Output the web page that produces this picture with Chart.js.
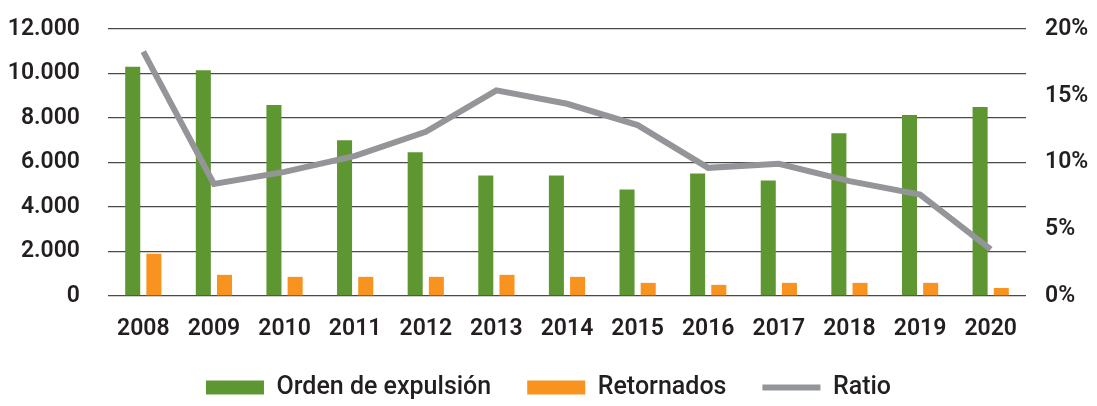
<!DOCTYPE html>
<html lang="es">
<head>
    <meta charset="UTF-8">
    <title>Orden de expulsión y retornados</title>
    <script src="https://cdn.jsdelivr.net/npm/chart.js@4.4.1/dist/chart.umd.min.js"></script>
    <style>
        html, body { margin: 0; padding: 0; background: #fff; }
        #wrap { width: 1097px; height: 406px; }
    </style>
</head>
<body>
<div id="wrap"><canvas id="chart" width="1097" height="406"></canvas></div>
<script>
    // values
    const years = ['2008', '2009', '2010', '2011', '2012', '2013', '2014', '2015', '2016', '2017', '2018', '2019', '2020'];
    const ordenExpulsion = [10300, 10150, 8580, 7000, 6460, 5420, 5420, 4790, 5510, 5190, 7320, 8130, 8490];
    const retornados = [1900, 950, 860, 860, 860, 950, 860, 590, 500, 590, 590, 590, 360];
    const ratio = [18.3, 8.4, 9.3, 10.5, 12.3, 15.4, 14.4, 12.8, 9.6, 9.9, 8.6, 7.6, 3.5];
    const leftTicks = [0, 2000, 4000, 6000, 8000, 10000, 12000];
    const rightTicks = [0, 5, 10, 15, 20];

    const textColor = '#231f20';
    const tickFont = { family: 'Roboto', size: 23, weight: '600' };

    function miles(v) {
        return String(v).replace(/\B(?=(\d{3})+(?!\d))/g, '.');
    }

    // fixed side widths, and no extra top/bottom room for the tick labels
    function fixWidth(w) {
        return axis => {
            axis.width = w;
            axis.paddingTop = 0;
            axis.paddingBottom = 0;
        };
    }

    new Chart(document.getElementById('chart'), {
        type: 'bar',
        data: {
            labels: years,
            datasets: [
                {
                    label: 'Orden de expulsión',
                    data: ordenExpulsion,
                    backgroundColor: '#5e9732',
                    yAxisID: 'y',
                    order: 1,
                    categoryPercentage: 0.6,
                    barPercentage: 0.71
                },
                {
                    label: 'Retornados',
                    data: retornados,
                    backgroundColor: '#f7931e',
                    yAxisID: 'y',
                    order: 1,
                    categoryPercentage: 0.6,
                    barPercentage: 0.71
                },
                {
                    type: 'line',
                    label: 'Ratio',
                    data: ratio,
                    borderColor: '#939598',
                    backgroundColor: '#939598',
                    borderWidth: 6,
                    pointRadius: 0,
                    tension: 0,
                    yAxisID: 'y1',
                    order: 0
                }
            ]
        },
        options: {
            responsive: false,
            animation: false,
            layout: { padding: { top: 29, left: 0, right: 0, bottom: -4 } },
            scales: {
                x: {
                    offset: true,
                    grid: { display: false, drawTicks: false },
                    border: { display: false },
                    ticks: { color: textColor, font: tickFont, padding: 19, maxRotation: 0 },
                    afterFit: axis => { axis.height = 43; }
                },
                y: {
                    position: 'left',
                    min: 0,
                    max: 12000,
                    afterBuildTicks: axis => { axis.ticks = leftTicks.map(v => ({ value: v })); },
                    grid: { color: '#4a4a4a', lineWidth: 1.3, drawTicks: false },
                    border: { display: false },
                    ticks: { color: textColor, font: tickFont, padding: 28, callback: v => miles(v) },
                    afterFit: fixWidth(108)
                },
                y1: {
                    position: 'right',
                    min: 0,
                    max: 20,
                    afterBuildTicks: axis => { axis.ticks = rightTicks.map(v => ({ value: v })); },
                    grid: { display: false, drawTicks: false },
                    border: { display: false },
                    ticks: { color: textColor, font: tickFont, padding: 19, callback: v => v + '%' },
                    afterFit: fixWidth(71)
                }
            },
            plugins: {
                tooltip: { enabled: false },
                legend: {
                    position: 'bottom',
                    labels: {
                        color: textColor,
                        font: { family: 'Roboto', size: 25, weight: '500' },
                        usePointStyle: true,
                        pointStyleWidth: 58,
                        boxHeight: 14,
                        padding: 36,
                        generateLabels: chart => chart.data.datasets.map((ds, i) => ({
                            text: ds.label,
                            fillStyle: ds.backgroundColor,
                            strokeStyle: ds.type === 'line' ? ds.borderColor : ds.backgroundColor,
                            lineWidth: ds.type === 'line' ? 6 : 0,
                            pointStyle: ds.type === 'line' ? 'line' : 'rect',
                            fontColor: textColor,
                            datasetIndex: i,
                            hidden: false
                        }))
                    }
                }
            }
        }
    });
</script>
</body>
</html>
